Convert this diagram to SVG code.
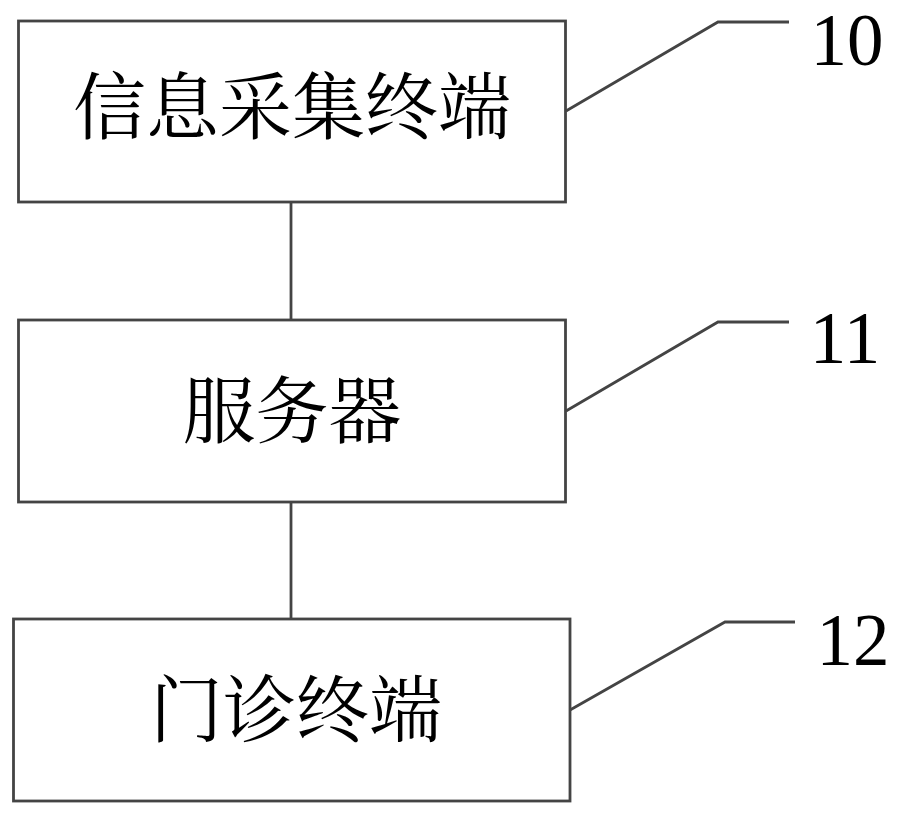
<svg xmlns="http://www.w3.org/2000/svg" width="897" height="816" viewBox="0 0 897 816">
<style>
.box{fill:#fff;stroke:#444;stroke-width:2.8}
.ln{fill:none;stroke:#444;stroke-width:2.8}
.lbl{font-family:"Liberation Serif","Noto Serif CJK SC","Noto Sans CJK SC",serif;font-size:73px;fill:#000;text-anchor:middle}
.num{font-family:"Liberation Serif",serif;font-size:73px;fill:#000;text-anchor:middle}
</style>
<rect width="897" height="816" fill="#fff"/>
<g id="connectors">
<line class="ln" x1="291" y1="202" x2="291" y2="320"/>
<line class="ln" x1="291" y1="502" x2="291" y2="619"/>
<polyline class="ln" points="566,111 718,22 789,22"/>
<polyline class="ln" points="566,411 718,322 789,322"/>
<polyline class="ln" points="570,710 725,622 795,622"/>
</g>
<g id="node10">
<rect class="box" x="18.5" y="21" width="547" height="181"/>
<text class="lbl" x="292" y="133">信息采集终端</text>
<text class="num" x="847" y="65">10</text>
</g>
<g id="node11">
<rect class="box" x="18.5" y="320" width="547" height="182"/>
<text class="lbl" x="292" y="437">服务器</text>
<text class="num" x="845" y="363">11</text>
</g>
<g id="node12">
<rect class="box" x="13.5" y="619" width="556.5" height="182"/>
<text class="lbl" x="296" y="736">门诊终端</text>
<text class="num" x="853" y="665">12</text>
</g>
</svg>
